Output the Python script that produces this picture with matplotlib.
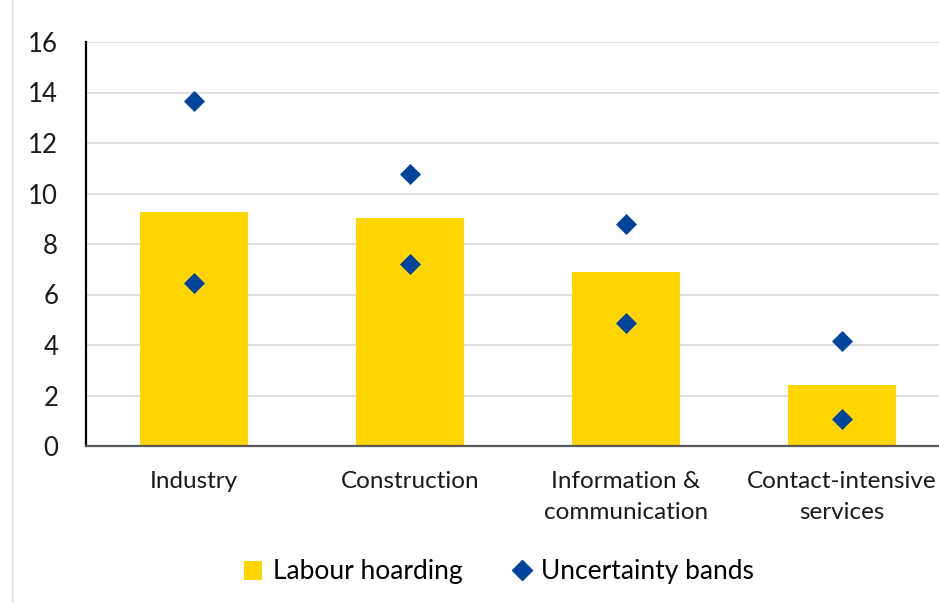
import numpy as np
import matplotlib.pyplot as plt
from matplotlib.lines import Line2D
from matplotlib.patches import Patch

plt.rcParams['font.family'] = ['Lato', 'DejaVu Sans']

categories = ['Industry', 'Construction', 'Information &\ncommunication', 'Contact-intensive\nservices']
hoarding = [9.27, 9.03, 6.89, 2.42]
band_high = [13.66, 10.77, 8.79, 4.16]
band_low = [6.46, 7.21, 4.87, 1.07]
yticks = [0, 2, 4, 6, 8, 10, 12, 14, 16]

bar_color = '#FFD500'
dot_color = '#00449B'

fig = plt.figure(figsize=(9.39, 6.03), dpi=100)
# axes runs past the right edge of the picture, as in the original
ax = fig.add_axes([86/939, 1 - 446/603, 864/939, 404/603])

x = np.arange(len(categories))
ax.bar(x, hoarding, width=0.5, color=bar_color, zorder=2)
ax.scatter(x, band_high, marker='D', s=115, color=dot_color, zorder=3, linewidths=0)
ax.scatter(x, band_low, marker='D', s=115, color=dot_color, zorder=3, linewidths=0)

ax.set_xlim(-0.5, len(categories) - 0.5)
ax.set_ylim(0, 16)
ax.set_yticks(yticks)
ax.set_yticklabels([str(t) for t in yticks], fontsize=18.5, color='#1a1a1a')
ax.set_xticks(x)
ax.set_xticklabels(categories, fontsize=17.5, color='#1a1a1a', linespacing=1.6)
ax.tick_params(axis='both', length=0)
ax.tick_params(axis='y', pad=20)
ax.tick_params(axis='x', pad=18)

ax.grid(axis='y', color='#d9d9d9', linewidth=1.2, zorder=0)
for s in ['top', 'right']:
    ax.spines[s].set_visible(False)
ax.spines['left'].set_color('#000000')
ax.spines['left'].set_linewidth(1.6)
ax.spines['bottom'].set_color('#595959')
ax.spines['bottom'].set_linewidth(1.6)

handles = [Patch(facecolor=bar_color, edgecolor='none'),
           Line2D([], [], marker='D', linestyle='none', color=dot_color, markersize=10)]
fig.legend(handles, ['Labour hoarding', 'Uncertainty bands'],
           loc='center', bbox_to_anchor=(499/939, 1 - 572/603),
           ncol=2, frameon=False, fontsize=19, handlelength=0.7, handleheight=0.7,
           handletextpad=0.4, columnspacing=1.9)

# thin frame line at the left edge
fig.add_artist(Line2D([12/939, 12/939], [0, 1], color='#d9d9d9', linewidth=1))

fig.savefig('out.png', dpi=100)
